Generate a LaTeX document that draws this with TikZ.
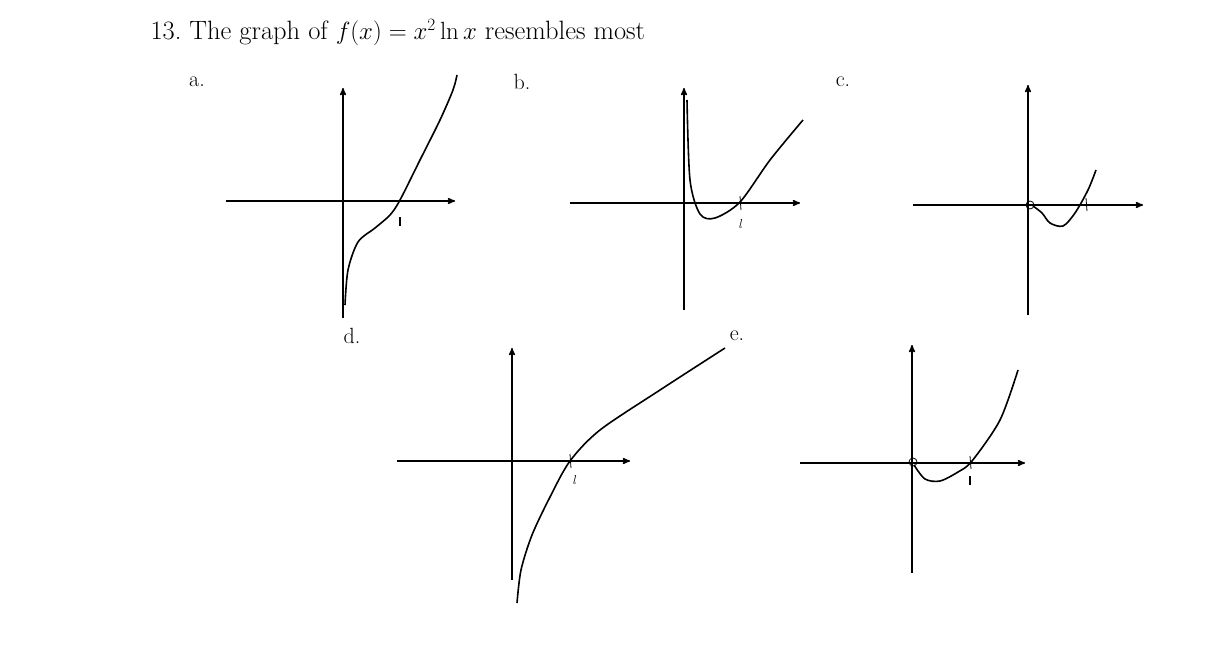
\documentclass[tikz,border=0pt]{standalone}
\usetikzlibrary{arrows}
\tikzstyle{axis}=[line width=1.5pt,->,>=stealth']
\tikzstyle{curve}=[line width=1.6pt]
\tikzstyle{lbl}=[font=\fontsize{22}{24}\selectfont]
\tikzstyle{tick}=[font=\fontsize{13}{14}\selectfont\itshape]
\begin{document}
\begin{tikzpicture}[x=1pt,y=-1pt]
  \useasboundingbox (0,0) rectangle (1224,672);
  \node[anchor=west,font=\fontsize{26.5}{30}\selectfont] (title) at (147,33) {13.\ The graph of $f(x)=x^2\ln x$ resembles most};
  % labels
  \node[lbl] (la) at (197,82) {a.};
  \node[lbl] (lb) at (522,82) {b.};
  \node[lbl] (lc) at (843,82) {c.};
  \node[lbl] (ld) at (352,336) {d.};
  \node[lbl] (le) at (737,336) {e.};
  % graph a
  \coordinate (ax1) at (226,201); \coordinate (ax2) at (455,201);
  \coordinate (ay1) at (343,318); \coordinate (ay2) at (343,88);
  \draw[axis] (ax1) -- (ax2);
  \draw[axis] (ay1) -- (ay2);
  \draw[curve] plot[smooth] coordinates {(345,305) (348,270) (358,242) (375,228) (390,215) (400,200) (420,160) (440,120) (453,90) (457,75)};
  \draw[line width=1.2pt] (400,217) -- (400,226);
  % graph b
  \coordinate (bx1) at (570,203); \coordinate (bx2) at (800,203);
  \coordinate (by1) at (684,310); \coordinate (by2) at (684,88);
  \draw[axis] (bx1) -- (bx2);
  \draw[axis] (by1) -- (by2);
  \draw[curve] plot[smooth] coordinates {(687,100) (690,180) (700,214) (715,218) (740,202) (770,160) (803,120)};
  \draw[thick] (740,196) -- (741,210);
  \node[tick] (tb) at (740,224) {l};
  % graph c
  \coordinate (cx1) at (913,205); \coordinate (cx2) at (1143,205);
  \coordinate (cy1) at (1028,315); \coordinate (cy2) at (1028,85);
  \draw[axis] (cx1) -- (cx2);
  \draw[axis] (cy1) -- (cy2);
  \draw[thick] (1030,205) circle (4);
  \draw[curve] plot[smooth] coordinates {(1033,206) (1042,213) (1050,223) (1063,226) (1075,213) (1088,190) (1096,170)};
  \draw[thick] (1086,198) -- (1087,211);
  % graph d
  \coordinate (dx1) at (397,461); \coordinate (dx2) at (630,461);
  \coordinate (dy1) at (512,580); \coordinate (dy2) at (512,348);
  \draw[axis] (dx1) -- (dx2);
  \draw[axis] (dy1) -- (dy2);
  \draw[curve] plot[smooth] coordinates {(517,603) (521,570) (532,535) (550,497) (570,461) (600,430) (660,390) (725,348)};
  \draw[thick] (570,454) -- (571,468);
  \node[tick] (td) at (574,480) {l};
  % graph e
  \coordinate (ex1) at (800,463); \coordinate (ex2) at (1025,463);
  \coordinate (ey1) at (912,573); \coordinate (ey2) at (912,345);
  \draw[axis] (ex1) -- (ex2);
  \draw[axis] (ey1) -- (ey2);
  \draw[thick] (913,462) circle (4);
  \draw[curve] plot[smooth] coordinates {(914,465) (925,479) (940,481) (958,472) (972,461) (1000,420) (1018,370)};
  \draw[thick] (970,456) -- (971,469);
  \draw[line width=1.2pt] (970,476) -- (970,485);
\end{tikzpicture}
\end{document}
